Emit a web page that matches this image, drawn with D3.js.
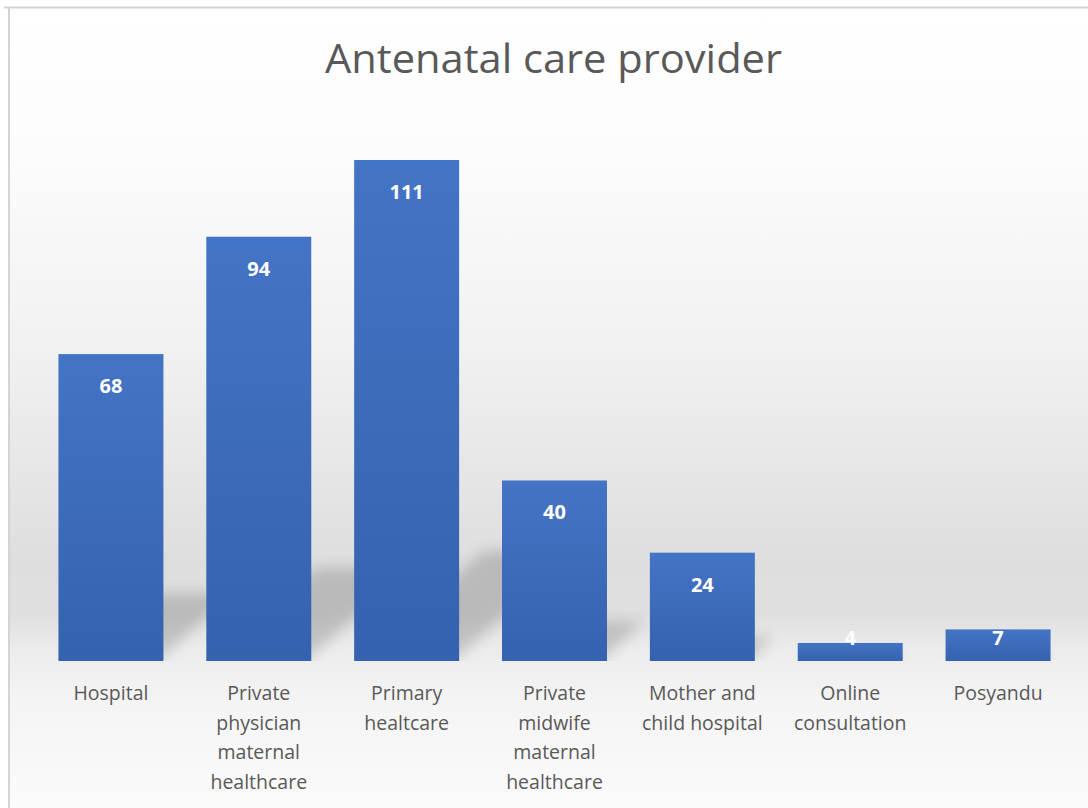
<!DOCTYPE html>
<html>
<head>
<meta charset="utf-8">
<script src="https://cdn.jsdelivr.net/npm/d3@7"></script>
<style>
  html, body { margin: 0; padding: 0; background: #ffffff; }
  svg { display: block; }
</style>
</head>
<body>
<svg id="chart" width="1088" height="808"></svg>
<script>
const title = "Antenatal care provider";
const categories = [
  "Hospital",
  "Private physician maternal healthcare",
  "Primary healthcare",
  "Private midwife maternal healthcare",
  "Mother and child hospital",
  "Online consultation",
  "Posyandu"
];
const labelLines = [
  ["Hospital"],
  ["Private", "physician", "maternal", "healthcare"],
  ["Primary", "healtcare"],
  ["Private", "midwife", "maternal", "healthcare"],
  ["Mother and", "child hospital"],
  ["Online", "consultation"],
  ["Posyandu"]
];
const values = [68, 94, 111, 40, 24, 4, 7];

const W = 1088, H = 808;
const baseY = 661;
const svg = d3.select("#chart");
const defs = svg.append("defs");

// background gradient
const bg = defs.append("linearGradient").attr("id", "bgGrad")
  .attr("gradientUnits", "userSpaceOnUse")
  .attr("x1", 0).attr("y1", 8).attr("x2", 0).attr("y2", H);
[[8, "#ffffff"], [150, "#fcfcfc"], [350, "#f1f1f1"], [560, "#dedede"], [615, "#dfdfdf"],
 [650, "#ececec"], [700, "#f4f4f4"], [808, "#fbfbfb"]].forEach(([y, c]) => {
  bg.append("stop").attr("offset", (y - 8) / (H - 8)).attr("stop-color", c);
});

const barGrad = defs.append("linearGradient").attr("id", "barGrad")
  .attr("x1", 0).attr("y1", 0).attr("x2", 0).attr("y2", 1);
barGrad.append("stop").attr("offset", 0).attr("stop-color", "#4474c5");
barGrad.append("stop").attr("offset", 1).attr("stop-color", "#3562af");

const blur = defs.append("filter").attr("id", "shadowBlur")
  .attr("x", "-50%").attr("y", "-50%").attr("width", "200%").attr("height", "200%");
blur.append("feGaussianBlur").attr("stdDeviation", 7);

defs.append("clipPath").attr("id", "plotClip")
  .append("rect").attr("x", 9).attr("y", 8).attr("width", W).attr("height", baseY - 8);

// chart area background and border
svg.append("rect").attr("x", 9).attr("y", 8).attr("width", W - 9).attr("height", H - 8)
  .attr("fill", "url(#bgGrad)");
svg.append("line").attr("x1", 4).attr("x2", W).attr("y1", 7.5).attr("y2", 7.5)
  .attr("stroke", "#d4d4d4").attr("stroke-width", 2);
svg.append("line").attr("x1", 9).attr("x2", 9).attr("y1", 7).attr("y2", H)
  .attr("stroke", "#d4d4d4").attr("stroke-width", 2);

// scales
const x = d3.scaleBand().domain(categories).range([37, 1072])
  .paddingInner(0.29).paddingOuter(0.145);
const y = d3.scaleLinear().domain([0, 120]).range([baseY, baseY - 120 * (501 / 111)]);

// shadows
svg.append("g").attr("clip-path", "url(#plotClip)")
  .selectAll("path").data(values).join("path")
  .attr("d", (d, i) => {
    const x0 = x(categories[i]), x1 = x0 + x.bandwidth();
    const h = baseY - y(d);
    const dy = Math.max(0.22 * h, 8), dx = Math.max(0.26 * h, 8);
    return `M${x0 + 6},${baseY} L${x1 - 6},${baseY} L${x1 + dx - 10},${baseY - dy} L${x0 + dx},${baseY - dy} Z`;
  })
  .attr("fill", "#000").attr("opacity", 0.16)
  .attr("filter", "url(#shadowBlur)");

// bars
svg.append("g").selectAll("rect").data(values).join("rect")
  .attr("x", (d, i) => x(categories[i]))
  .attr("y", d => y(d))
  .attr("width", x.bandwidth())
  .attr("height", d => baseY - y(d))
  .attr("fill", "url(#barGrad)");

// value labels
svg.append("g").selectAll("text").data(values).join("text")
  .attr("x", (d, i) => x(categories[i]) + x.bandwidth() / 2)
  .attr("y", d => Math.min(y(d) + 39, baseY - 16))
  .attr("text-anchor", "middle")
  .attr("font-family", "'Open Sans', sans-serif")
  .attr("font-weight", "bold")
  .attr("font-size", 20)
  .attr("fill", "#ffffff")
  .text(d => d);

// category labels
const lab = svg.append("g").selectAll("text").data(categories).join("text")
  .attr("x", d => x(d) + x.bandwidth() / 2)
  .attr("y", 700)
  .attr("text-anchor", "middle")
  .attr("font-family", "'Open Sans', sans-serif")
  .attr("font-size", 19.5)
  .attr("fill", "#595959");
lab.each(function(d, i) {
  d3.select(this).selectAll("tspan").data(labelLines[i]).join("tspan")
    .attr("x", x(d) + x.bandwidth() / 2)
    .attr("dy", (t, j) => j === 0 ? 0 : 29.5)
    .text(t => t);
});

// title
svg.append("text")
  .attr("x", 553.5).attr("y", 73)
  .attr("text-anchor", "middle")
  .attr("font-family", "'Open Sans', sans-serif")
  .attr("font-size", 40)
  .attr("fill", "#595959")
  .attr("textLength", 457)
  .attr("lengthAdjust", "spacingAndGlyphs")
  .text(title);
</script>
</body>
</html>
